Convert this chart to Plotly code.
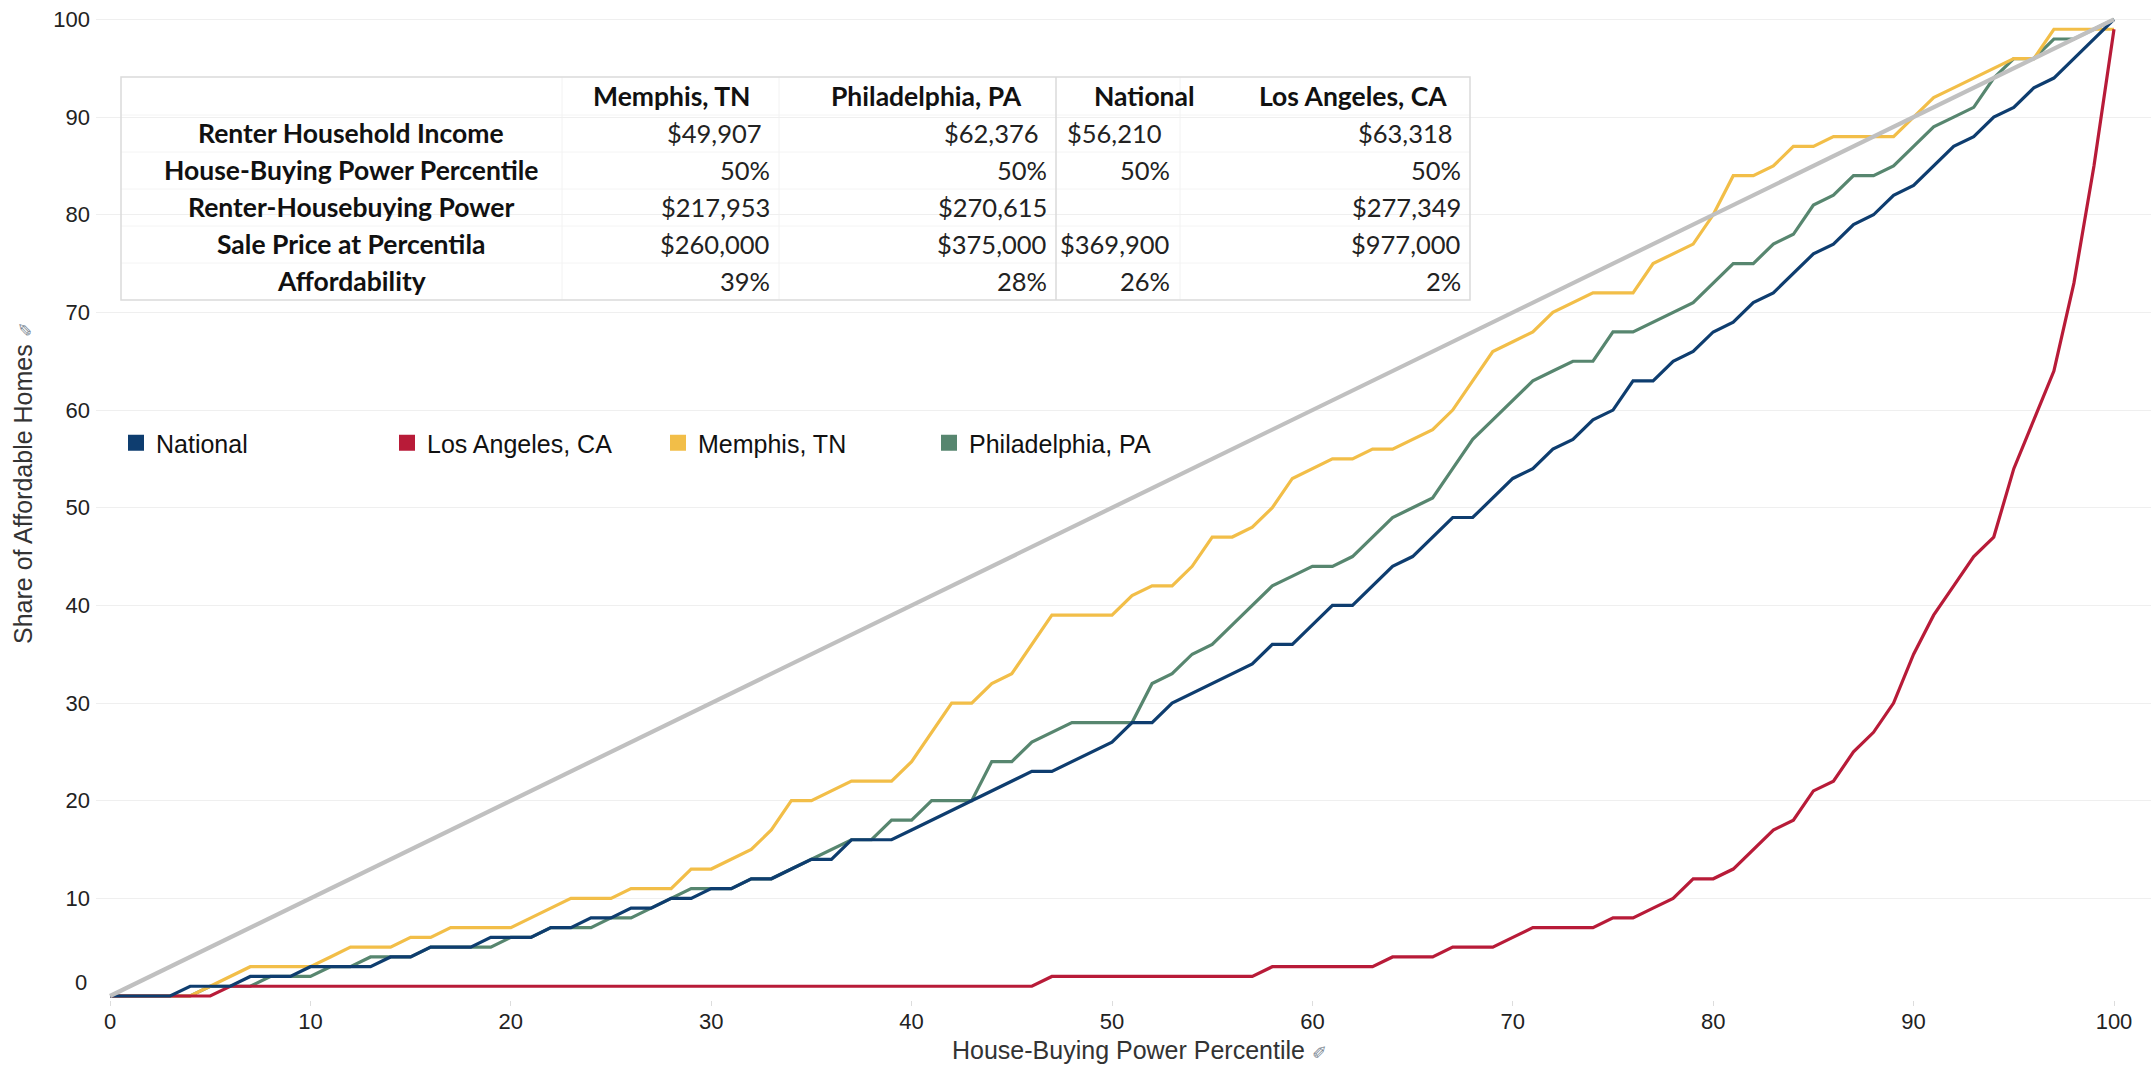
import plotly.graph_objects as go

# ---------------- data ----------------
percentile = list(range(0, 101))

national = [0, 0, 0, 0, 1, 1, 1, 2, 2, 2,
            3, 3, 3, 3, 4, 4, 5, 5, 5, 6,
            6, 6, 7, 7, 8, 8, 9, 9, 10, 10,
            11, 11, 12, 12, 13, 14, 14, 16, 16, 16,
            17, 18, 19, 20, 21, 22, 23, 23, 24, 25,
            26, 28, 28, 30, 31, 32, 33, 34, 36, 36,
            38, 40, 40, 42, 44, 45, 47, 49, 49, 51,
            53, 54, 56, 57, 59, 60, 63, 63, 65, 66,
            68, 69, 71, 72, 74, 76, 77, 79, 80, 82,
            83, 85, 87, 88, 90, 91, 93, 94, 96, 98,
            100]

los_angeles = [0, 0, 0, 0, 0, 0, 1, 1, 1, 1,
               1, 1, 1, 1, 1, 1, 1, 1, 1, 1,
               1, 1, 1, 1, 1, 1, 1, 1, 1, 1,
               1, 1, 1, 1, 1, 1, 1, 1, 1, 1,
               1, 1, 1, 1, 1, 1, 1, 2, 2, 2,
               2, 2, 2, 2, 2, 2, 2, 2, 3, 3,
               3, 3, 3, 3, 4, 4, 4, 5, 5, 5,
               6, 7, 7, 7, 7, 8, 8, 9, 10, 12,
               12, 13, 15, 17, 18, 21, 22, 25, 27, 30,
               35, 39, 42, 45, 47, 54, 59, 64, 73, 85,
               99]

memphis = [0, 0, 0, 0, 0, 1, 2, 3, 3, 3,
           3, 4, 5, 5, 5, 6, 6, 7, 7, 7,
           7, 8, 9, 10, 10, 10, 11, 11, 11, 13,
           13, 14, 15, 17, 20, 20, 21, 22, 22, 22,
           24, 27, 30, 30, 32, 33, 36, 39, 39, 39,
           39, 41, 42, 42, 44, 47, 47, 48, 50, 53,
           54, 55, 55, 56, 56, 57, 58, 60, 63, 66,
           67, 68, 70, 71, 72, 72, 72, 75, 76, 77,
           80, 84, 84, 85, 87, 87, 88, 88, 88, 88,
           90, 92, 93, 94, 95, 96, 96, 99, 99, 99,
           99]

philadelphia = [0, 0, 0, 0, 0, 1, 1, 1, 2, 2,
                2, 3, 3, 4, 4, 4, 5, 5, 5, 5,
                6, 6, 7, 7, 7, 8, 8, 9, 10, 11,
                11, 11, 12, 12, 13, 14, 15, 16, 16, 18,
                18, 20, 20, 20, 24, 24, 26, 27, 28, 28,
                28, 28, 32, 33, 35, 36, 38, 40, 42, 43,
                44, 44, 45, 47, 49, 50, 51, 54, 57, 59,
                61, 63, 64, 65, 65, 68, 68, 69, 70, 71,
                73, 75, 75, 77, 78, 81, 82, 84, 84, 85,
                87, 89, 90, 91, 94, 96, 96, 98, 98, 99,
                100]

equality_x = [0, 100]
equality_y = [0, 100]

x_tick_vals = [0, 10, 20, 30, 40, 50, 60, 70, 80, 90, 100]
y_tick_vals = [10, 20, 30, 40, 50, 60, 70, 80, 90, 100]
y_zero_label = "0"

table_row_labels = ["Renter Household Income", "House-Buying Power Percentile",
                    "Renter-Housebuying Power", "Sale Price at Percentila", "Affordability"]
table_columns = ["Memphis, TN", "Philadelphia, PA", "National", "Los Angeles, CA"]
memphis_stats = ["$49,907", "50%", "$217,953", "$260,000", "39%"]
philadelphia_stats = ["$62,376", "50%", "$270,615", "$375,000", "28%"]
national_stats = ["$56,210", "50%", "", "$369,900", "26%"]
los_angeles_stats = ["$63,318", "50%", "$277,349", "$977,000", "2%"]
table_values = [memphis_stats, philadelphia_stats, national_stats, los_angeles_stats]

# ---------------- style / layout ----------------
C_NAT = "#0E3D6F"
C_LA = "#B81B38"
C_MEM = "#F2BE48"
C_PHI = "#57866F"
C_EQ = "#C0C0C0"

W, H = 2151, 1066
ML, MR, MT, MB = 96, 0, 10, 66
PW, PH = W - ML - MR, H - MT - MB


def px_x(px):
    return (px - ML) / PW


def px_y(py):
    return (H - MB - py) / PH


AX_FONT = "Liberation Sans, Arial, sans-serif"
TB_FONT = "Lato, Noto Sans, sans-serif"

fig = go.Figure()

lines = [("Philadelphia, PA", philadelphia, C_PHI),
         ("Memphis, TN", memphis, C_MEM),
         ("Los Angeles, CA", los_angeles, C_LA),
         ("National", national, C_NAT)]
for name, vals, col in lines:
    fig.add_trace(go.Scatter(x=percentile, y=vals, mode="lines", name=name,
                             line=dict(color=col, width=3.2), showlegend=False))

fig.add_trace(go.Scatter(x=equality_x, y=equality_y, mode="lines",
                         line=dict(color=C_EQ, width=4.2), showlegend=False))

for name, col in [("National", C_NAT), ("Los Angeles, CA", C_LA),
                  ("Memphis, TN", C_MEM), ("Philadelphia, PA", C_PHI)]:
    fig.add_trace(go.Scatter(x=[None], y=[None], mode="markers", name=name,
                             marker=dict(symbol="square", size=16, color=col),
                             showlegend=True))

# ---- table (text annotations + light rules) ----
tb_left, tb_right, tb_top, tb_bottom = 121, 1470, 77, 300
col_rules = [562, 779, 1180]
strong_rule = 1056
header_y = 96
row_ys = [133, 170, 207, 244, 281]
row_rules = [115, 152, 189, 226, 263]
label_cx = 351
header_cx = [672, 926, 1144, 1353]
value_right = [772, 1049, 1172, 1463]
row_right_pad = [8, 0, 0, 0, 0]

annotations = []
for r, lab in enumerate(table_row_labels):
    annotations.append(dict(text="<b>%s</b>" % lab, xref="paper", yref="paper",
                            x=px_x(label_cx), y=px_y(row_ys[r]), xanchor="center",
                            yanchor="middle", showarrow=False,
                            font=dict(family=TB_FONT, size=26.5, color="#111111")))
for c, name in enumerate(table_columns):
    annotations.append(dict(text="<b>%s</b>" % name, xref="paper", yref="paper",
                            x=px_x(header_cx[c]), y=px_y(header_y), xanchor="center",
                            yanchor="middle", showarrow=False,
                            font=dict(family=TB_FONT, size=26.5, color="#111111")))
    for r, val in enumerate(table_values[c]):
        if val == "":
            continue
        annotations.append(dict(text=val, xref="paper", yref="paper",
                                x=px_x(value_right[c] - row_right_pad[r]), y=px_y(row_ys[r]),
                                xanchor="right", yanchor="middle", showarrow=False,
                                font=dict(family=TB_FONT, size=25.5, color="#222222")))

shapes = []
for yy in row_rules:
    shapes.append(dict(type="line", xref="paper", yref="paper", layer="below",
                       x0=px_x(tb_left), x1=px_x(tb_right), y0=px_y(yy), y1=px_y(yy),
                       line=dict(color="#F4F4F4", width=1)))
for xx in col_rules:
    shapes.append(dict(type="line", xref="paper", yref="paper", layer="below",
                       x0=px_x(xx), x1=px_x(xx), y0=px_y(tb_bottom), y1=px_y(tb_top),
                       line=dict(color="#F2F2F2", width=1)))
shapes.append(dict(type="line", xref="paper", yref="paper",
                   x0=px_x(strong_rule), x1=px_x(strong_rule),
                   y0=px_y(tb_bottom), y1=px_y(tb_top),
                   line=dict(color="#DADADA", width=1.5)))
shapes.append(dict(type="rect", xref="paper", yref="paper",
                   x0=px_x(tb_left), x1=px_x(tb_right), y0=px_y(tb_bottom), y1=px_y(tb_top),
                   line=dict(color="#DADADA", width=1.5)))

# ---- axis extras ----
annotations += [
    dict(text=y_zero_label, xref="paper", yref="y", x=0, y=0, xanchor="right",
         yanchor="middle", xshift=-7, yshift=14, showarrow=False,
         font=dict(family=AX_FONT, size=22, color="#222222")),
    dict(text="Share of Affordable Homes <span style='color:#7d8995;font-size:18px'>✐</span>",
         xref="paper", yref="paper", x=px_x(23), y=px_y(483), textangle=-90,
         xanchor="center", yanchor="middle", showarrow=False,
         font=dict(family=AX_FONT, size=25, color="#333333")),
    dict(text="House-Buying Power Percentile <span style='color:#7d8995;font-size:18px'>✐</span>",
         xref="paper", yref="paper", x=px_x(1139), y=px_y(1050),
         xanchor="center", yanchor="middle", showarrow=False,
         font=dict(family=AX_FONT, size=25, color="#333333")),
]

# x: 0 at 110 px, 100 at 2114 px
X0_PX, X100_PX = 110, 2114
ppu = (X100_PX - X0_PX) / 100.0
x_range = [-(X0_PX - ML) / ppu, (W - MR - X0_PX) / ppu]

fig.update_layout(
    width=W, height=H,
    margin=dict(l=ML, r=MR, t=MT, b=MB, autoexpand=False),
    paper_bgcolor="white", plot_bgcolor="white",
    showlegend=True,
    legend=dict(orientation="h", x=px_x(116), y=px_y(443), xanchor="left", yanchor="middle",
                font=dict(family=AX_FONT, size=25, color="#111111"),
                entrywidth=226, entrywidthmode="pixels", bgcolor="rgba(0,0,0,0)",
                traceorder="normal"),
    xaxis=dict(range=x_range, tickvals=x_tick_vals, showgrid=False, zeroline=False,
               showline=False, ticks="outside", ticklen=5, tickcolor="#DDDDDD",
               ticklabelstandoff=-3,
               tickfont=dict(family=AX_FONT, size=22, color="#222222"), fixedrange=True),
    yaxis=dict(range=[-0.41, 100.97], tickvals=y_tick_vals, showgrid=True,
               gridcolor="#EFEFEF", gridwidth=1, zeroline=False, showline=False,
               ticks="", ticklabelstandoff=5,
               tickfont=dict(family=AX_FONT, size=22, color="#222222"), fixedrange=True),
    shapes=shapes,
    annotations=annotations,
    hovermode=False,
)

fig.write_html("out.html",
               config={"displayModeBar": False},
               post_script="document.body.style.margin='0';"
                           "document.body.style.overflow='hidden';")
